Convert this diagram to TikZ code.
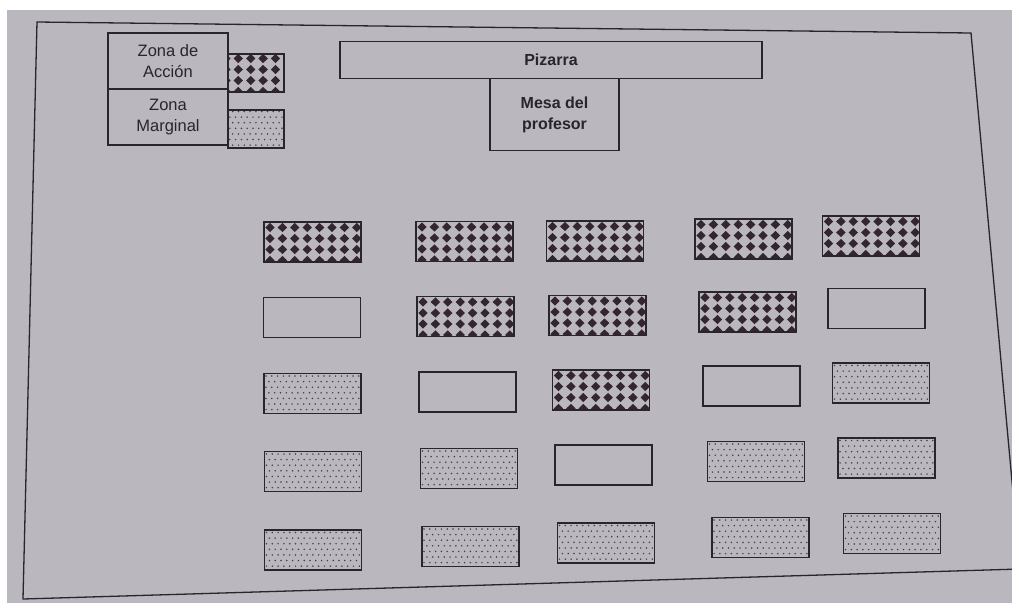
\documentclass[tikz,border=0pt]{standalone}
\usepackage{fontspec}
\setmainfont{Liberation Sans}
\definecolor{page}{RGB}{186,184,190}
\definecolor{ink}{RGB}{40,38,44}
\definecolor{diacol}{RGB}{52,38,48}
\definecolor{dotcol}{RGB}{66,64,72}
\begin{document}
\begin{tikzpicture}[x=1pt,y=-1pt,
  box/.style={draw=ink,line width=1.6pt,inner sep=0pt},
  desk/.style={box,minimum width=97pt,minimum height=40pt},
  action/.style={path picture={
    \foreach \j in {0,...,3}{\foreach \i in {0,...,8}{
      \fill[diacol] ({\i*12.4-47.2},{\j*11-14.5}) -- ++(4.7,-4.6) -- ++(4.7,4.6) -- ++(-4.7,4.6) -- cycle;
    }}}},
  marginal/.style={path picture={
    \foreach \j in {0,...,7}{\foreach \i in {0,...,17}{
      \fill[dotcol] ({\i*5.8-46.5+mod(\j,2)*2.9},{\j*5.6-17.5}) circle[radius=0.85pt];
    }}}},
  lbl/.style={font=\fontsize{16.5}{21}\selectfont,text=ink,align=center},
  blbl/.style={font=\fontsize{16}{21}\selectfont\bfseries,text=ink,align=center},
  frame/.style={draw=ink,line width=1.3pt}
]
\useasboundingbox (0,0) rectangle (1012,603);
\begin{scope}
\clip (0,0) rectangle (1012,603);
\fill[white] (0,0) rectangle (1012,603);
\fill[page] (7,10) rectangle (1012,603);
\draw[frame] (37,22) -- (971,33) -- (1020,569) -- (23,599) -- cycle;
\end{scope}

% legend
\node[box,lbl,minimum width=120pt,minimum height=56pt] (lA) at (168,61) {Zona de\\Acción};
\node[box,lbl,minimum width=120pt,minimum height=56pt] (lM) at (168,117) {Zona\\Marginal};
\node[box,action,minimum width=56pt,minimum height=38pt] (swA) at (256,73) {};
\node[box,marginal,minimum width=56pt,minimum height=38pt] (swM) at (256,129) {};

% board and teacher desk
\node[box,blbl,minimum width=422pt,minimum height=37pt] (piz) at (551,60) {Pizarra};
\node[box,blbl,minimum width=129pt,minimum height=72pt] (mesa) at (554.5,114.5) {Mesa del\\profesor};

% row 1
\node[desk,action] (d11) at (312.5,242) {};
\node[desk,action] (d12) at (464.5,241.5) {};
\node[desk,action] (d13) at (595,241) {};
\node[desk,action] (d14) at (743.5,239) {};
\node[desk,action] (d15) at (871,236) {};
% row 2
\node[desk] (d21) at (312,317.5) {};
\node[desk,action] (d22) at (465.5,316.5) {};
\node[desk,action] (d23) at (597.5,315.5) {};
\node[desk,action] (d24) at (747.5,312) {};
\node[desk] (d25) at (876.5,308.5) {};
% row 3
\node[desk,marginal] (d31) at (312.5,393.5) {};
\node[desk] (d32) at (467.5,392) {};
\node[desk,action] (d33) at (601,390) {};
\node[desk] (d34) at (751.5,386) {};
\node[desk,marginal] (d35) at (881,383) {};
% row 4
\node[desk,marginal] (d41) at (313,471.5) {};
\node[desk,marginal] (d42) at (469,468.5) {};
\node[desk] (d43) at (603.5,465) {};
\node[desk,marginal] (d44) at (756,461.5) {};
\node[desk,marginal] (d45) at (886.5,458) {};
% row 5
\node[desk,marginal] (d51) at (313,550) {};
\node[desk,marginal] (d52) at (470.5,546.5) {};
\node[desk,marginal] (d53) at (606,543) {};
\node[desk,marginal] (d54) at (760.5,537.5) {};
\node[desk,marginal] (d55) at (892,533.5) {};
\end{tikzpicture}
\end{document}
